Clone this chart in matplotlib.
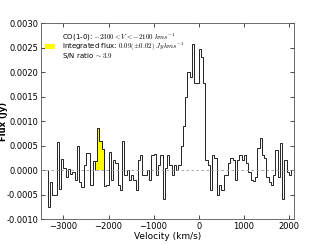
import numpy as np
import matplotlib
matplotlib.use("Agg")
import matplotlib.pyplot as plt

# channel edges (km/s) and flux per channel (Jy)
bin_start = -3350
bin_width = 50
flux_e4 = [
    -7.5, -2.5, -5.0, -5.0, 5.8, -3.8, 2.2, 0.5, -1.5, 0.3,
    -0.8, -0.5, -2.0, 5.0, -2.5, -3.5, 1.0, 3.5, 3.5, -3.0,
    1.8, 1.8, 8.5, 6.0, 4.2, -3.3, -3.0, 3.7, -2.0, 2.0,
    1.5, -3.0, -4.0, 6.0, -1.0, 0.0, -2.0, -1.0, -2.0, -4.0,
    2.0, 3.0, -1.0, -1.0, 0.0, -2.0, 3.0, 3.2, -1.0, 1.0,
    3.0, -6.0, 0.5, 3.0, 1.0, -1.0, 1.0, 0.0, 1.0, 5.0,
    9.0, 15.0, 20.0, 19.0, 25.7, 17.8, 17.8, 24.6, 23.0, 17.8,
    2.0, 1.0, -4.0, 3.0, 2.5, -5.0, -3.0, -4.0, -1.0, -1.0,
    1.5, 2.5, 2.0, -2.0, 2.0, 3.0, 2.0, 3.0, 1.5, -0.5,
    -2.0, -2.3, -1.5, 4.5, 6.5, 3.0, 2.5, -1.5, -2.5, -3.0,
    -1.0, 4.0, -1.5, 5.5, -6.0, 2.0, -0.5, -1.0,
]
flux = np.array(flux_e4) * 1e-4
edges = bin_start + bin_width * np.arange(len(flux) + 1)

vmin_sel, vmax_sel = -2300, -2100
label = ("CO(1-0): $-2300 < V < -2100\\ kms^{-1}$\n"
         "Integrated flux: $0.09(\\pm0.02)\\ Jykms^{-1}$\n"
         "S/N ratio $\\sim3.9$")

narrow = ['Liberation Sans Narrow', 'DejaVu Sans']
plt.rcParams['font.family'] = narrow
plt.rcParams['mathtext.fontset'] = 'cm'

fig = plt.figure(figsize=(3.27, 2.45), dpi=100)
ax = fig.add_axes([0.125, 0.106, 0.775, 0.80])

ax.stairs(flux, edges, color='#222222', lw=0.7)

centers = 0.5 * (edges[:-1] + edges[1:])
sel = (centers > vmin_sel) & (centers < vmax_sel)
idx = np.where(sel)[0]
sel_edges = edges[idx[0]:idx[-1] + 2]
ax.stairs(flux[sel], sel_edges, baseline=0, fill=True, color='#ffff00',
          label=label)
ax.stairs(flux[sel], sel_edges, color='#222222', lw=0.7)

ax.axhline(0, color='#999999', ls='--', lw=0.6, dashes=(3, 3))

ax.set_xlim(-3500, 2120)
ax.set_ylim(-0.001, 0.003)
ax.set_yticks(np.arange(-0.001, 0.00301, 0.0005))
ax.yaxis.set_major_formatter(matplotlib.ticker.FormatStrFormatter('%.4f'))
ax.set_xticks([-3000, -2000, -1000, 0, 1000, 2000])

ax.tick_params(direction='in', top=True, right=True, labelsize=6,
               length=3, width=0.5, pad=2)
for s in ax.spines.values():
    s.set_linewidth(0.6)
    s.set_color('#555555')

ax.set_xlabel('Velocity (km/s)', fontsize=6.5, labelpad=1)
ax.set_ylabel('Flux (Jy)', fontsize=6, fontweight='bold',
              family=['DejaVu Sans'])
ax.yaxis.set_label_coords(-0.128, 0.5)

leg = ax.legend(loc='upper left', bbox_to_anchor=(-0.016, 1.0), fontsize=5,
                frameon=False, handlelength=1.4, handleheight=0.8,
                borderaxespad=0.8, handletextpad=1.0)
for t in leg.get_texts():
    t.set_linespacing(0.75)

fig.savefig('out.png', dpi=100)
